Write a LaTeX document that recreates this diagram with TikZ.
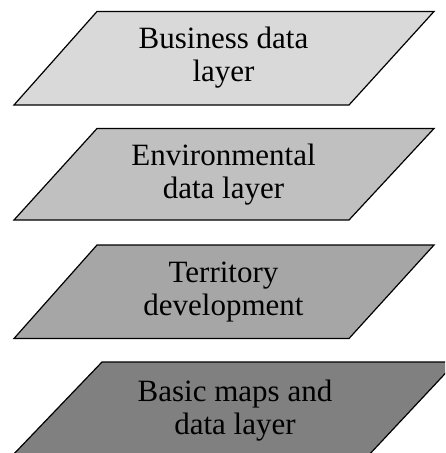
\documentclass[tikz,border=0pt]{standalone}
\usepackage{fontspec}
\setmainfont{Liberation Serif}
\begin{document}
\begin{tikzpicture}[x=1pt,y=-1pt,
  layer/.style={draw=black,line width=1.2pt,line join=miter},
  caption/.style={align=center,inner sep=0pt,font=\fontsize{31}{33}\selectfont}]
\definecolor{gray15}{HTML}{D9D9D9}
\definecolor{gray25}{HTML}{C0C0C0}
\definecolor{gray35}{HTML}{A6A6A6}
\definecolor{gray50}{HTML}{808080}
\useasboundingbox (0,0) rectangle (445,453);
\clip (0,0) rectangle (445,453);
% stacked layers, top to bottom
\draw[layer,fill=gray15] (97,11.5) -- (434,11.5) -- (349,105) -- (14,105) -- cycle;
\node[caption] (business) at (223.5,58) {Business data\\layer};
\draw[layer,fill=gray25] (97,128.5) -- (434,128.5) -- (349,220) -- (14,220) -- cycle;
\node[caption] (environment) at (223.5,175) {Environmental\\data layer};
\draw[layer,fill=gray35] (97,245) -- (434,245) -- (349,338.5) -- (14,338.5) -- cycle;
\node[caption] (territory) at (223.5,292) {Territory\\development};
\draw[layer,fill=gray50] (102,362) -- (456,362) -- (367,457) -- (11,457) -- cycle;
\node[caption] (basic) at (235,411) {Basic maps and\\data layer};
\end{tikzpicture}
\end{document}
